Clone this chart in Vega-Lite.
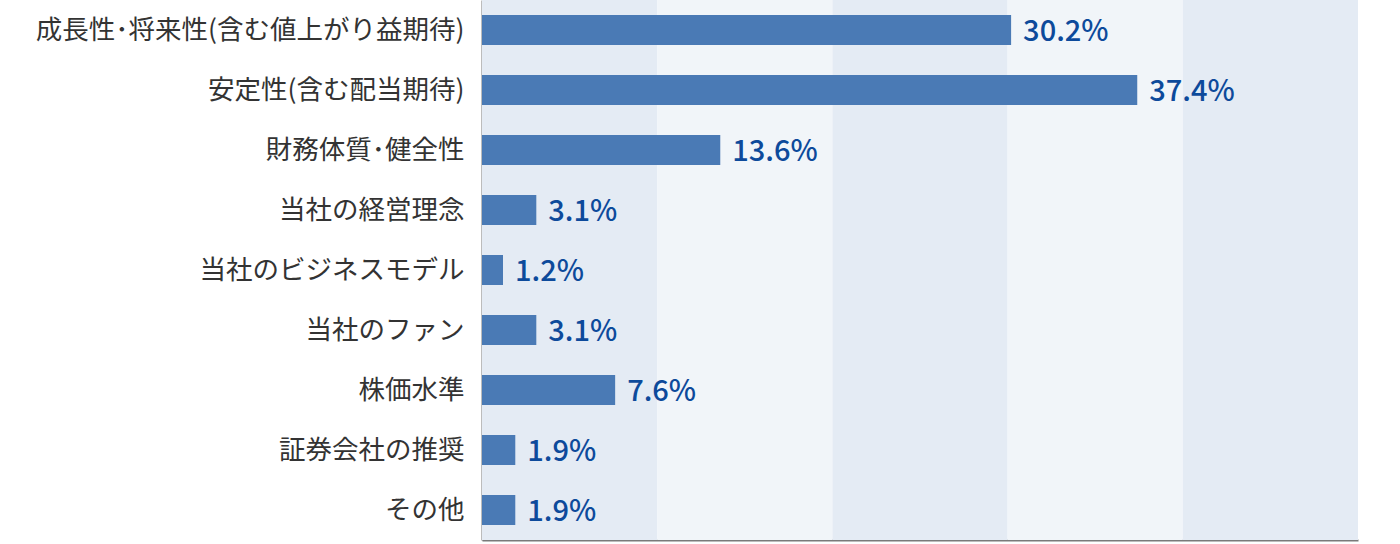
{
  "$schema": "https://vega.github.io/schema/vega-lite/v6.json",
  "width": 876,
  "height": 540,
  "autosize": {"type": "none"},
  "padding": {"left": 482, "top": 0, "right": 42, "bottom": 4},
  "background": "white",
  "config": {"view": {"stroke": null}, "font": "Noto Sans CJK JP"},
  "datasets": {
    "bars": [
      {"item": "成長性･将来性(含む値上がり益期待)", "value": 30.2, "label": "30.2%"},
      {"item": "安定性(含む配当期待)", "value": 37.4, "label": "37.4%"},
      {"item": "財務体質･健全性", "value": 13.6, "label": "13.6%"},
      {"item": "当社の経営理念", "value": 3.1, "label": "3.1%"},
      {"item": "当社のビジネスモデル", "value": 1.2, "label": "1.2%"},
      {"item": "当社のファン", "value": 3.1, "label": "3.1%"},
      {"item": "株価水準", "value": 7.6, "label": "7.6%"},
      {"item": "証券会社の推奨", "value": 1.9, "label": "1.9%"},
      {"item": "その他", "value": 1.9, "label": "1.9%"}
    ],
    "stripes": [
      {"start": 0, "end": 10, "shade": "dark"},
      {"start": 10, "end": 20, "shade": "light"},
      {"start": 20, "end": 30, "shade": "dark"},
      {"start": 30, "end": 40, "shade": "light"},
      {"start": 40, "end": 50, "shade": "dark"}
    ]
  },
  "layer": [
    {
      "data": {"name": "stripes"},
      "mark": {"type": "rect"},
      "encoding": {
        "x": {"field": "start", "type": "quantitative", "scale": {"domain": [0, 50]}, "axis": {"domain": true, "domainColor": "#7a7a7a", "domainWidth": 2, "labels": false, "ticks": false, "grid": false, "title": null, "orient": "bottom"}},
        "x2": {"field": "end"},
        "color": {"field": "shade", "type": "nominal", "scale": {"domain": ["dark", "light"], "range": ["#e4ebf4", "#f1f5f9"]}, "legend": null}
      }
    },
    {
      "data": {"name": "bars"},
      "encoding": {
        "y": {"field": "item", "type": "nominal", "sort": null, "scale": {"paddingInner": 0.5, "paddingOuter": 0.25}, "axis": {"title": null, "domain": true, "domainColor": "#7a7a7a", "domainWidth": 2, "ticks": false, "labelFontSize": 26.5, "labelColor": "#333333", "labelPadding": 18, "labelFont": "Noto Sans CJK JP", "labelLimit": 480, "labelOffset": 1}},
        "x": {"field": "value", "type": "quantitative"}
      },
      "layer": [
        {"mark": {"type": "bar", "color": "#4a7ab5", "height": 30}},
        {"mark": {"type": "text", "align": "left", "baseline": "middle", "dx": 12, "dy": 2, "fontSize": 29, "color": "#0d4a9b", "font": "'Noto Sans CJK JP Medium', 'Noto Sans CJK JP'", "fontWeight": "normal"}, "encoding": {"text": {"field": "label"}}}
      ]
    }
  ]
}
